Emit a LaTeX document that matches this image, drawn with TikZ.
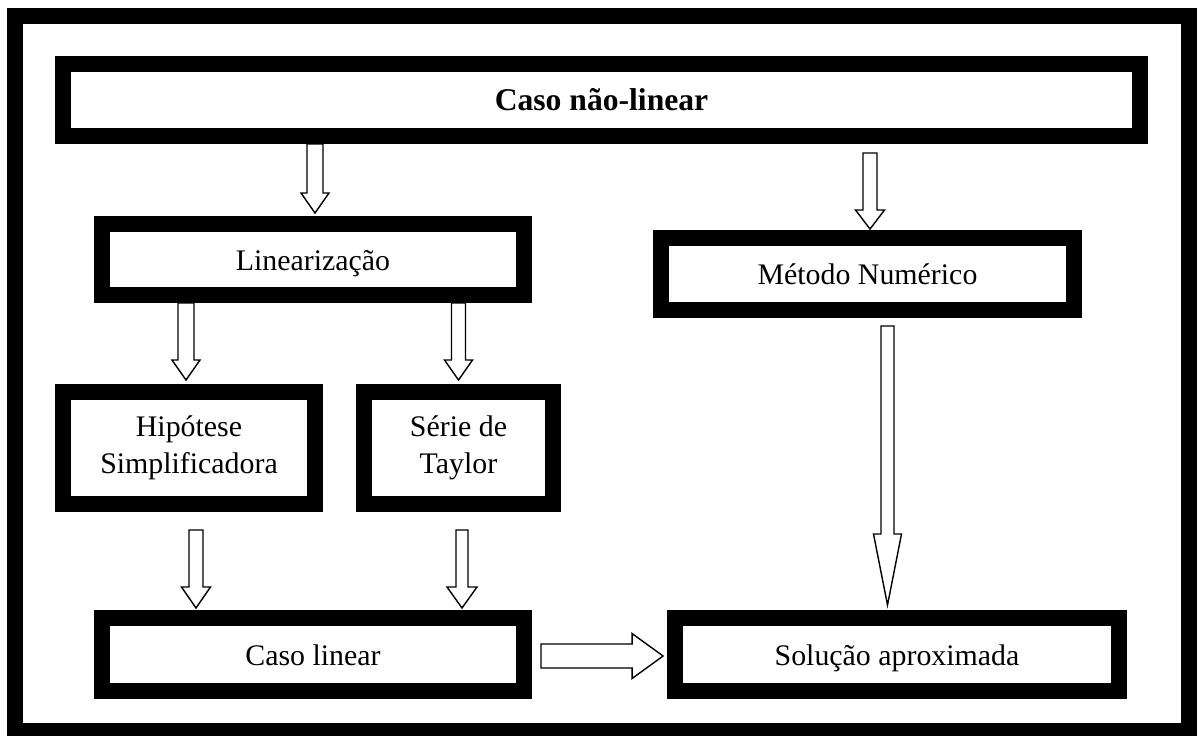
\documentclass[tikz,border=0pt]{standalone}
\usepackage{fontspec}
\setmainfont{Liberation Serif}
\usepackage{tikz}
\usetikzlibrary{calc}
\tikzset{
  thickbox/.style={draw, line width=0.32cm, fill=white, align=center,
    inner sep=2pt, font=\fontsize{17}{21}\selectfont},
  oneline/.style={thickbox, text height=14pt, text depth=2pt},
  arrowline/.style={draw, fill=white, line width=0.8pt, line join=miter}
}
% hollow block arrow: start, tip, half shaft, half head, head length
\newcommand{\drawHollowArrow}[5]{
\coordinate (HB) at ($(#2)!#5!(#1)$);
\draw[arrowline] ($(#1)!#3!90:(#2)$) -- ($(HB)!#3!-90:(#1)$)
  -- ($(HB)!#4!-90:(#1)$) -- (#2) -- ($(HB)!#4!90:(#1)$)
  -- ($(HB)!#3!90:(#1)$) -- ($(#1)!#3!-90:(#2)$) -- cycle;
}
\begin{document}
\begin{tikzpicture}[x=0.02cm, y=-0.02cm]
  \useasboundingbox (0,0) rectangle (1199,735);
  \draw[line width=0.32cm] (15,15.5) rectangle (1189,731);
  % boxes
  \node[oneline, minimum width=21.54cm, minimum height=1.44cm] (nonlin) at (601.5,100) {\fontsize{18}{21}\selectfont\bfseries Caso não-linear};
  \node[oneline, minimum width=8.44cm, minimum height=1.42cm] (linz) at (313,259.5) {Linearização};
  \node[oneline, minimum width=8.26cm, minimum height=1.44cm] (metodo) at (867.5,274) {Método Numérico};
  \node[thickbox, minimum width=5.04cm, minimum height=2.24cm] (hip) at (189,448) {Hipótese\\Simplificadora};
  \node[thickbox, minimum width=3.78cm, minimum height=2.24cm] (taylor) at (458.5,448) {Série de\\Taylor};
  \node[oneline, minimum width=8.44cm, minimum height=1.46cm] (clin) at (313,654.5) {Caso linear};
  \node[oneline, minimum width=8.88cm, minimum height=1.46cm] (sol) at (897,654.5) {Solução aproximada};
  % arrows
  \coordinate (a1) at ($(nonlin.south -| linz.north)+(2,0)$);
  \coordinate (b1) at ($(linz.north)+(2,-3)$);
  \drawHollowArrow{a1}{b1}{0.16cm}{0.28cm}{0.4cm}
  \coordinate (a2) at ($(linz.south -| hip.north)+(-3,0)$);
  \coordinate (b2) at ($(hip.north)+(-3,-4)$);
  \drawHollowArrow{a2}{b2}{0.16cm}{0.28cm}{0.4cm}
  \coordinate (a3) at (linz.south -| taylor.north);
  \coordinate (b3) at ($(taylor.north)+(0,-4)$);
  \drawHollowArrow{a3}{b3}{0.14cm}{0.28cm}{0.4cm}
  \coordinate (a4) at ($(hip.south)+(7,18)$);
  \coordinate (b4) at ($(a4 |- clin.north)+(0,-2)$);
  \drawHollowArrow{a4}{b4}{0.14cm}{0.29cm}{0.42cm}
  \coordinate (a5) at ($(taylor.south)+(3.5,18)$);
  \coordinate (b5) at ($(a5 |- clin.north)+(0,-2)$);
  \drawHollowArrow{a5}{b5}{0.12cm}{0.3cm}{0.42cm}
  \coordinate (a6) at ($(nonlin.south -| metodo.north)+(2.5,9)$);
  \coordinate (b6) at ($(metodo.north)+(2.5,-1)$);
  \drawHollowArrow{a6}{b6}{0.14cm}{0.29cm}{0.38cm}
  \coordinate (a7) at ($(metodo.south)+(20,8)$);
  \coordinate (b7) at ($(a7 |- sol.north)+(0,-5)$);
  \drawHollowArrow{a7}{b7}{0.13cm}{0.28cm}{1.42cm}
  \coordinate (a8) at ($(clin.east)+(9,1.5)$);
  \coordinate (b8) at ($(a8 -| sol.west)+(-4,0)$);
  \drawHollowArrow{a8}{b8}{0.24cm}{0.45cm}{0.62cm}
\end{tikzpicture}
\end{document}
